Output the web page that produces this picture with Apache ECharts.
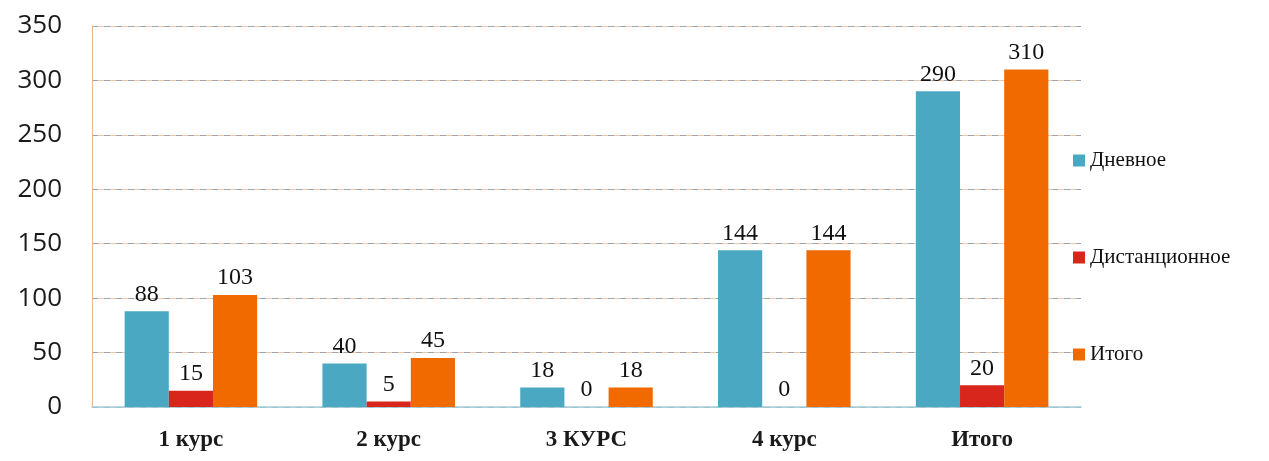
<!DOCTYPE html>
<html><head><meta charset="utf-8">
<script src="https://cdn.jsdelivr.net/npm/echarts@6/dist/echarts.min.js"></script>
<style>html,body{margin:0;padding:0;background:#fff}#c{width:1269px;height:461px}</style>
</head><body><div id="c"></div>
<script>
const categories = ['1 курс', '2 курс', '3 КУРС', '4 курс', 'Итого'];
const seriesNames = ['Дневное', 'Дистанционное', 'Итого'];
const dayValues = [88, 40, 18, 144, 290];
const distanceValues = [15, 5, 0, 0, 20];
const totalValues = [103, 45, 18, 144, 310];
const yTicks = [0, 50, 100, 150, 200, 250, 300, 350];
const colors = ['#4aa8c2', '#d9261c', '#f06a00'];
const serif = "'Liberation Serif', 'DejaVu Serif', serif";

const chart = echarts.init(document.getElementById('c'));
const labelStyle = {show: true, position: 'top', distance: 5, fontFamily: serif, fontSize: 24, color: '#111'};
function mk(name, data, color) {
  return {name, type: 'bar', data, barGap: '0%', barCategoryGap: '33%', itemStyle: {color}, label: labelStyle, yAxisIndex: 0};
}
chart.setOption({
  animation: false,
  grid: {left: 92, right: 188, top: 26, bottom: 54},
  legend: {
    orient: 'vertical', left: 1068, top: 145, itemGap: 76, itemWidth: 12, itemHeight: 12,
    icon: 'rect', data: seriesNames,
    textStyle: {fontFamily: serif, fontSize: 21, color: '#111'}
  },
  xAxis: {
    type: 'category', data: categories,
    axisLine: {lineStyle: {color: '#9fd0de', width: 1.5}},
    axisTick: {show: false},
    axisLabel: {fontFamily: serif, fontSize: 23, fontWeight: 'bold', color: '#1a1a1a', margin: 22}
  },
  yAxis: [{
    type: 'value', min: yTicks[0], max: yTicks[yTicks.length - 1], interval: 50,
    axisLine: {show: true, lineStyle: {color: '#e8b894'}},
    axisTick: {show: false},
    axisLabel: {fontFamily: 'Open Sans', fontSize: 26, color: '#1a1a1a', margin: 30},
    splitLine: {lineStyle: {color: '#f2c6a6', width: 1}}
  }, {
    type: 'value', min: yTicks[0], max: yTicks[yTicks.length - 1], interval: 50, position: 'left',
    axisLine: {show: false}, axisTick: {show: false}, axisLabel: {show: false},
    splitLine: {lineStyle: {color: '#9aa4aa', width: 1, type: [6, 6]}}
  }],
  series: [mk(seriesNames[0], dayValues, colors[0]), mk(seriesNames[1], distanceValues, colors[1]), mk(seriesNames[2], totalValues, colors[2])]
});
</script></body></html>
